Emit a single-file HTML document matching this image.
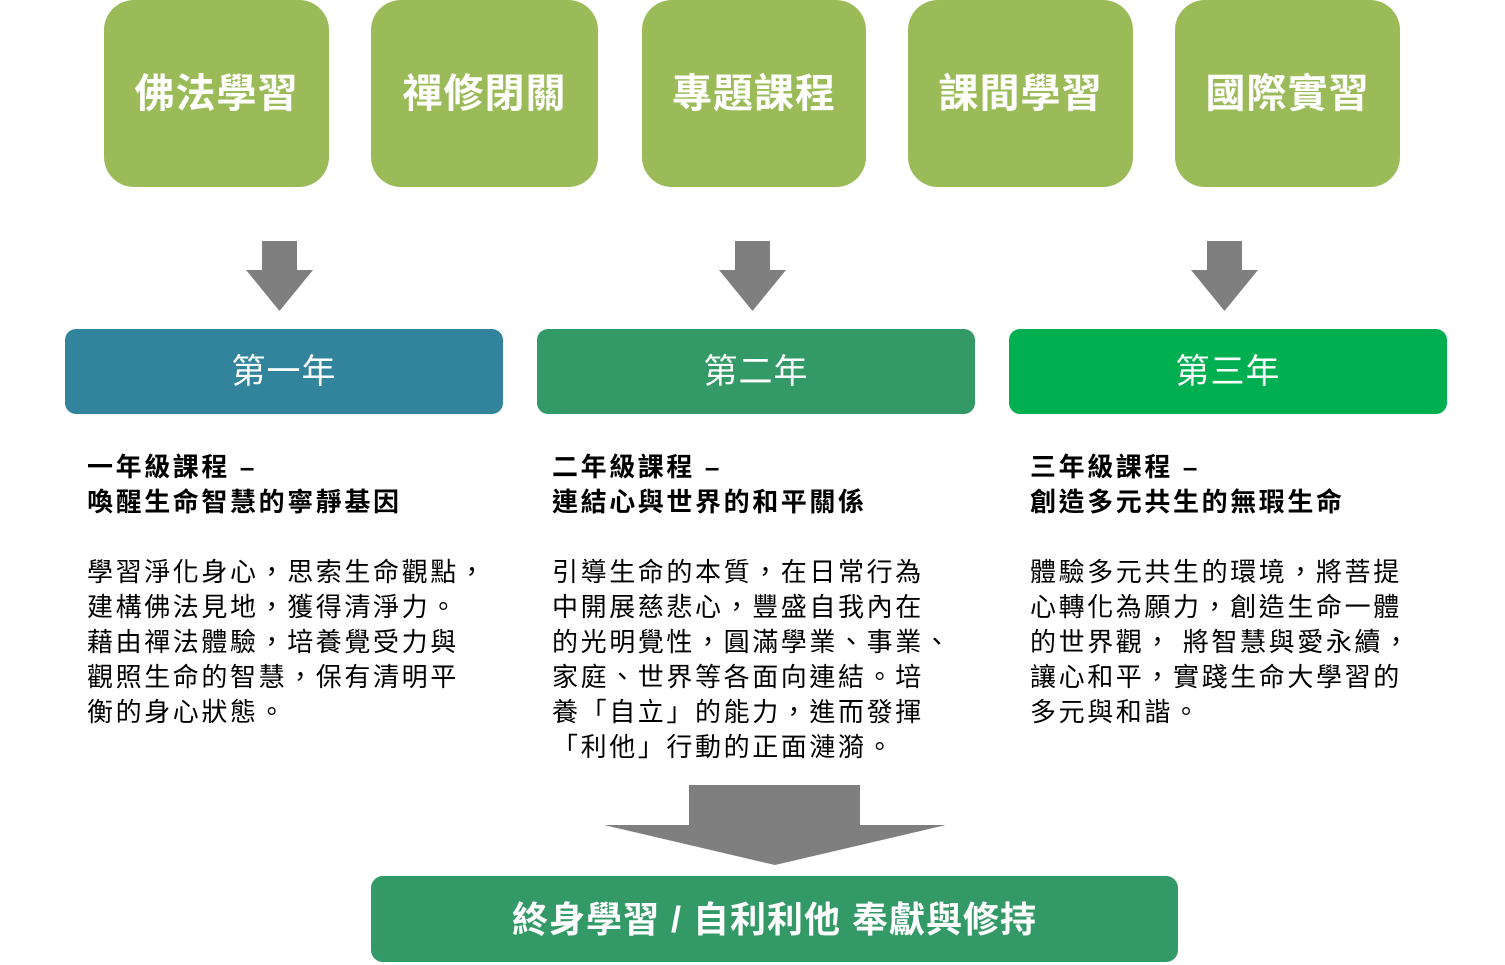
<!DOCTYPE html>
<html><head><meta charset="utf-8"><style>
*{margin:0;padding:0;box-sizing:border-box}
body{width:1505px;height:965px;background:#fff;position:relative;overflow:hidden;font-family:"Liberation Sans","Noto Sans CJK TC",sans-serif}
.t{position:absolute;top:0;height:187px;background:#9BBB59;border-radius:30px;color:#fff;font-size:40px;font-weight:bold;display:flex;align-items:center;justify-content:center;letter-spacing:1px;padding-bottom:8px}
.y{position:absolute;top:329px;height:85px;width:438px;border-radius:11px;color:#fff;font-size:34px;display:flex;align-items:center;justify-content:center;letter-spacing:1px;padding-bottom:6px}
.c{position:absolute;top:450px;font-size:26px;line-height:35px;color:#000;letter-spacing:2.6px;white-space:nowrap}
.c b{display:block;font-weight:bold}
.c p{margin-top:35px}
.bot{position:absolute;left:371px;top:876px;width:807px;height:86px;background:#339966;border-radius:12px;color:#fff;font-size:36px;font-weight:bold;display:flex;align-items:center;justify-content:center;letter-spacing:1px;padding-bottom:4px}
svg{position:absolute;left:0;top:0}
</style></head><body>
<div class="t" style="left:104px;width:225px">佛法學習</div>
<div class="t" style="left:371px;width:227px">禪修閉關</div>
<div class="t" style="left:642px;width:224px">專題課程</div>
<div class="t" style="left:908px;width:225px">課間學習</div>
<div class="t" style="left:1175px;width:225px">國際實習</div>
<svg width="1505" height="965">
<g fill="#7F7F7F">
<polygon points="262,241 297,241 297,270 313,270 279.5,311 246,270 262,270"/>
<polygon points="735,241 770,241 770,270 786,270 752.5,311 719,270 735,270"/>
<polygon points="1207,241 1242,241 1242,270 1258,270 1224.5,311 1191,270 1207,270"/>
<polygon points="689,785 860,785 860,825 946,825 775,865 604,825 689,825"/>
</g></svg>
<div class="y" style="left:65px;background:#31849B">第一年</div>
<div class="y" style="left:537px;background:#339966">第二年</div>
<div class="y" style="left:1009px;background:#00B050">第三年</div>
<div class="c" style="left:87px"><b>一年級課程 –</b><b>喚醒生命智慧的寧靜基因</b><p>學習淨化身心，思索生命觀點，<br>建構佛法見地，獲得清淨力。<br>藉由禪法體驗，培養覺受力與<br>觀照生命的智慧，保有清明平<br>衡的身心狀態。</p></div>
<div class="c" style="left:552px"><b>二年級課程 –</b><b>連結心與世界的和平關係</b><p>引導生命的本質，在日常行為<br>中開展慈悲心，豐盛自我內在<br>的光明覺性，圓滿學業、事業、<br>家庭、世界等各面向連結。培<br>養「自立」的能力，進而發揮<br>「利他」行動的正面漣漪。</p></div>
<div class="c" style="left:1030px"><b>三年級課程 –</b><b>創造多元共生的無瑕生命</b><p>體驗多元共生的環境，將菩提<br>心轉化為願力，創造生命一體<br>的世界觀， 將智慧與愛永續，<br>讓心和平，實踐生命大學習的<br>多元與和諧。</p></div>
<div class="bot">終身學習 / 自利利他 奉獻與修持</div>
</body></html>
